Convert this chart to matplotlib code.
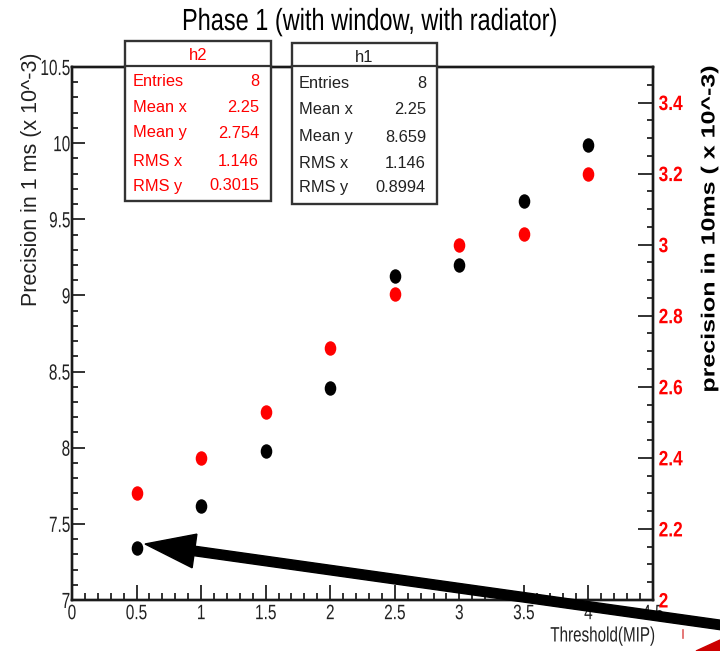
import matplotlib
matplotlib.use("Agg")
import matplotlib.pyplot as plt
from matplotlib.patches import Rectangle, FancyArrow, Polygon
from matplotlib.lines import Line2D
from matplotlib.path import Path
from matplotlib.patheffects import AbstractPathEffect
from matplotlib.ticker import MultipleLocator, FormatStrFormatter
from matplotlib.transforms import IdentityTransform, Affine2D

plt.rcParams['font.family'] = ['Liberation Sans', 'DejaVu Sans']

# data
threshold = [0.5, 1.0, 1.5, 2.0, 2.5, 3.0, 3.5, 4.0]
prec_1ms = [7.34, 7.62, 7.98, 8.39, 9.13, 9.20, 9.62, 9.99]    # h1, left axis
prec_10ms = [2.30, 2.40, 2.53, 2.71, 2.86, 3.00, 3.03, 3.20]   # h2, right axis

stat_names = ["Entries", "Mean x", "Mean y", "RMS x", "RMS y"]
h1_stats = ["8", "2.25", "8.659", "1.146", "0.8994"]
h2_stats = ["8", "2.25", "2.754", "1.146", "0.3015"]


class Squeeze(AbstractPathEffect):
    """narrow the glyphs like the condensed ROOT fonts"""

    def __init__(self, sx=1.0, sy=1.0, anchor='center'):
        super().__init__()
        self.sx, self.sy, self.anchor = sx, sy, anchor

    def draw_path(self, renderer, gc, tpath, affine, rgbFace=None):
        ext = tpath.get_extents()
        cx = {'left': ext.x0, 'right': ext.x1}.get(self.anchor, (ext.x0 + ext.x1) / 2)
        cy = (ext.y0 + ext.y1) / 2
        sq = Affine2D().translate(-cx, -cy).scale(self.sx, self.sy).translate(cx, cy)
        renderer.draw_path(gc, tpath, sq + affine, rgbFace)


W, H = 720, 651
fig = plt.figure(figsize=(W / 100, H / 100), dpi=100)


def fx(x):
    return x / W


def fy(y):
    return 1 - y / H


ax = fig.add_axes((fx(72), fy(600), fx(653) - fx(72), fy(67) - fy(600)))
ax.set_xlim(0, 4.5)
ax.set_ylim(7, 10.5)
for s in ax.spines.values():
    s.set_linewidth(1.7)
    s.set_color('#1a1a1a')

dot = Path.unit_circle().transformed(Affine2D().scale(0.78, 1.0))
ax.plot(threshold, prec_1ms, ls='none', marker=dot, color='black', ms=9.4, zorder=3)

ax.xaxis.set_major_locator(MultipleLocator(0.5))
ax.xaxis.set_minor_locator(MultipleLocator(0.1))
ax.yaxis.set_major_locator(MultipleLocator(0.5))
ax.yaxis.set_minor_locator(MultipleLocator(0.1))
ax.xaxis.set_major_formatter(FormatStrFormatter('%g'))
ax.yaxis.set_major_formatter(FormatStrFormatter('%g'))
ax.tick_params(which='both', direction='in', top=False, right=False, colors='#222222', width=1.3)
ax.tick_params(axis='x', which='major', length=11, labelsize=15, pad=3)
ax.tick_params(axis='x', which='minor', length=4.7)
ax.tick_params(axis='y', which='major', length=9.5, labelsize=15.8, pad=1)
ax.tick_params(axis='y', which='minor', length=4.5)
for lab in ax.get_xticklabels():
    lab.set_path_effects([Squeeze(0.74, 1, 'center')])
for lab in ax.get_yticklabels():
    lab.set_path_effects([Squeeze(0.70, 1, 'right')])

ax2 = ax.twinx()
ax2.set_ylim(2, 3.5)
ax2.plot(threshold, prec_10ms, ls='none', marker=dot, color='red', ms=9.4, zorder=3)
ax2.yaxis.set_major_locator(MultipleLocator(0.2))
ax2.yaxis.set_minor_locator(MultipleLocator(0.05))
ax2.yaxis.set_major_formatter(FormatStrFormatter('%g'))
ax2.tick_params(which='both', direction='in', colors='#222222', width=1.3)
ax2.tick_params(which='major', length=11, labelsize=15, labelcolor='red', pad=4)
ax2.tick_params(which='minor', length=4)
for lab in ax2.get_yticklabels():
    lab.set_fontweight('bold')
    lab.set_path_effects([Squeeze(0.83, 1, 'left')])
for s in ax2.spines.values():
    s.set_linewidth(1.7)
    s.set_color('#1a1a1a')

fig.text(fx(369), fy(22), "Phase 1 (with window, with radiator)", ha='center', va='center',
         fontsize=22, path_effects=[Squeeze(0.77, 1, 'center')])
fig.text(fx(32), fy(52), "Precision in 1 ms (x 10^-3)", rotation=90, ha='center', va='top',
         fontsize=15.5, color='#222222')
fig.text(fx(656), fy(636), "Threshold(MIP)", ha='right', va='center', fontsize=15,
         color='#222222', path_effects=[Squeeze(0.73, 1, 'right')])
fig.text(fx(709), fy(65), "precision in 10ms ( x 10^-3)", rotation=90, ha='center', va='top',
         fontsize=18, fontweight='bold', path_effects=[Squeeze(1, 0.76, 'center')])


def stats_box(left, top, right, bottom, sep, title, title_y, rows_y, lab_x, val_x, values, color):
    fig.add_artist(Rectangle((fx(left), fy(bottom)), fx(right) - fx(left), fy(top) - fy(bottom),
                             transform=fig.transFigure, facecolor='white', edgecolor='#333333',
                             lw=1.7, zorder=5))
    fig.add_artist(Line2D([fx(left), fx(right)], [fy(sep), fy(sep)], transform=fig.transFigure,
                          color='#333333', lw=1.6, zorder=6))
    fig.text(fx((left + right) / 2), fy(title_y), title, ha='center', va='center',
             fontsize=12, color=color, zorder=7)
    for name, val, y in zip(stat_names, values, rows_y):
        fig.text(fx(lab_x), fy(y), name, ha='left', va='center', fontsize=11.8, color=color, zorder=7)
        fig.text(fx(val_x), fy(y), val, ha='right', va='center', fontsize=11.8, color=color, zorder=7)


stats_box(125, 41, 271, 201, 66, "h2", 56, [81, 108, 133, 161, 186], 133, 259, h2_stats, 'red')
stats_box(292, 43, 437, 204, 66, "h1", 58, [84, 110, 137, 163, 188], 299, 426, h1_stats, '#222222')

# annotation arrow pointing at the first point
fig.add_artist(FancyArrow(735, H - 627, -590, H - 544 - (H - 627), width=9.5, head_width=34,
                          head_length=50, length_includes_head=True, color='black',
                          transform=IdentityTransform(), zorder=8))
fig.add_artist(Polygon([(696, 0), (720, 11), (720, 0)], closed=True, color='#cc0000',
                       transform=IdentityTransform(), zorder=8))
fig.add_artist(Line2D([683, 683], [H - 630, H - 638], color='#e06060', lw=1.2,
                      transform=IdentityTransform(), zorder=8))

fig.savefig("out.png", dpi=100)
